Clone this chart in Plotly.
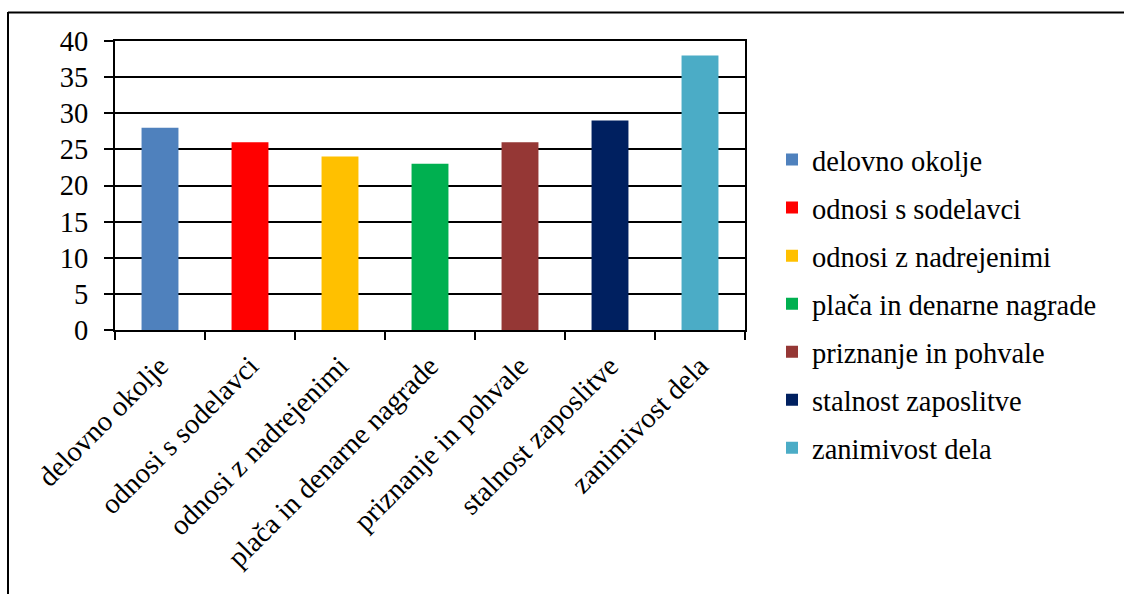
import plotly.graph_objects as go

categories = ["delovno okolje", "odnosi s sodelavci", "odnosi z nadrejenimi",
              "plača in denarne nagrade", "priznanje in pohvale",
              "stalnost zaposlitve", "zanimivost dela"]
values = [28, 26, 24, 23, 26, 29, 38]
colors = ["#4F81BD", "#FF0000", "#FFC000", "#00B050", "#953735", "#002060", "#4BACC6"]
y_ticks = [0, 5, 10, 15, 20, 25, 30, 35, 40]

W, H = 1124, 594
L, R, T, B = 115, 745, 41, 330
pw, ph = R - L, B - T

fig = go.Figure()
for i, (c, v, col) in enumerate(zip(categories, values, colors)):
    fig.add_trace(go.Bar(x=[c], y=[v], name=c, marker_color=col,
                         marker_line_width=0, legendgroup=str(i)))

FONT = "Liberation Serif"

def px_x(p):
    return (p - L) / pw

def px_y(p):
    return (B - p) / ph

fig.update_layout(
    width=W, height=H,
    margin=dict(l=L, r=W - R, t=T, b=H - B, autoexpand=False),
    paper_bgcolor="white", plot_bgcolor="white",
    barmode="overlay", bargap=0.59,
    font=dict(family=FONT, size=28.5, color="black"),
    showlegend=True,
    legend=dict(x=px_x(772), y=px_y(304), xanchor="left", yanchor="middle",
                font=dict(family=FONT, size=28.5, color="black"),
                traceorder="grouped", tracegroupgap=8, maxheight=560,
                bgcolor="rgba(0,0,0,0)", itemclick=False),
    xaxis=dict(categoryorder="array", categoryarray=categories,
               tickangle=-45, ticks="outside", tickson="boundaries",
               ticklen=8, tickwidth=2, tickcolor="black", ticklabelstandoff=6,
               showline=True, linecolor="black", linewidth=2, mirror=True,
               showgrid=False, tickfont=dict(family=FONT, size=28.5)),
    yaxis=dict(range=[0, 40], tickvals=y_ticks, ticks="outside",
               ticklen=9, tickwidth=2, tickcolor="black", ticklabelstandoff=10,
               showline=True, linecolor="black", linewidth=2, mirror=True,
               showgrid=True, gridcolor="black", gridwidth=2,
               zeroline=False, tickfont=dict(family=FONT, size=28.5)),
)

# outer chart border (left and top edges visible)
fig.add_shape(type="line", xref="paper", yref="paper",
              x0=px_x(8), x1=px_x(8), y0=px_y(12), y1=px_y(600),
              line=dict(color="black", width=2))
fig.add_shape(type="line", xref="paper", yref="paper",
              x0=px_x(8), x1=px_x(1130), y0=px_y(12.5), y1=px_y(12.5),
              line=dict(color="black", width=2))

fig.write_html("out.html")
